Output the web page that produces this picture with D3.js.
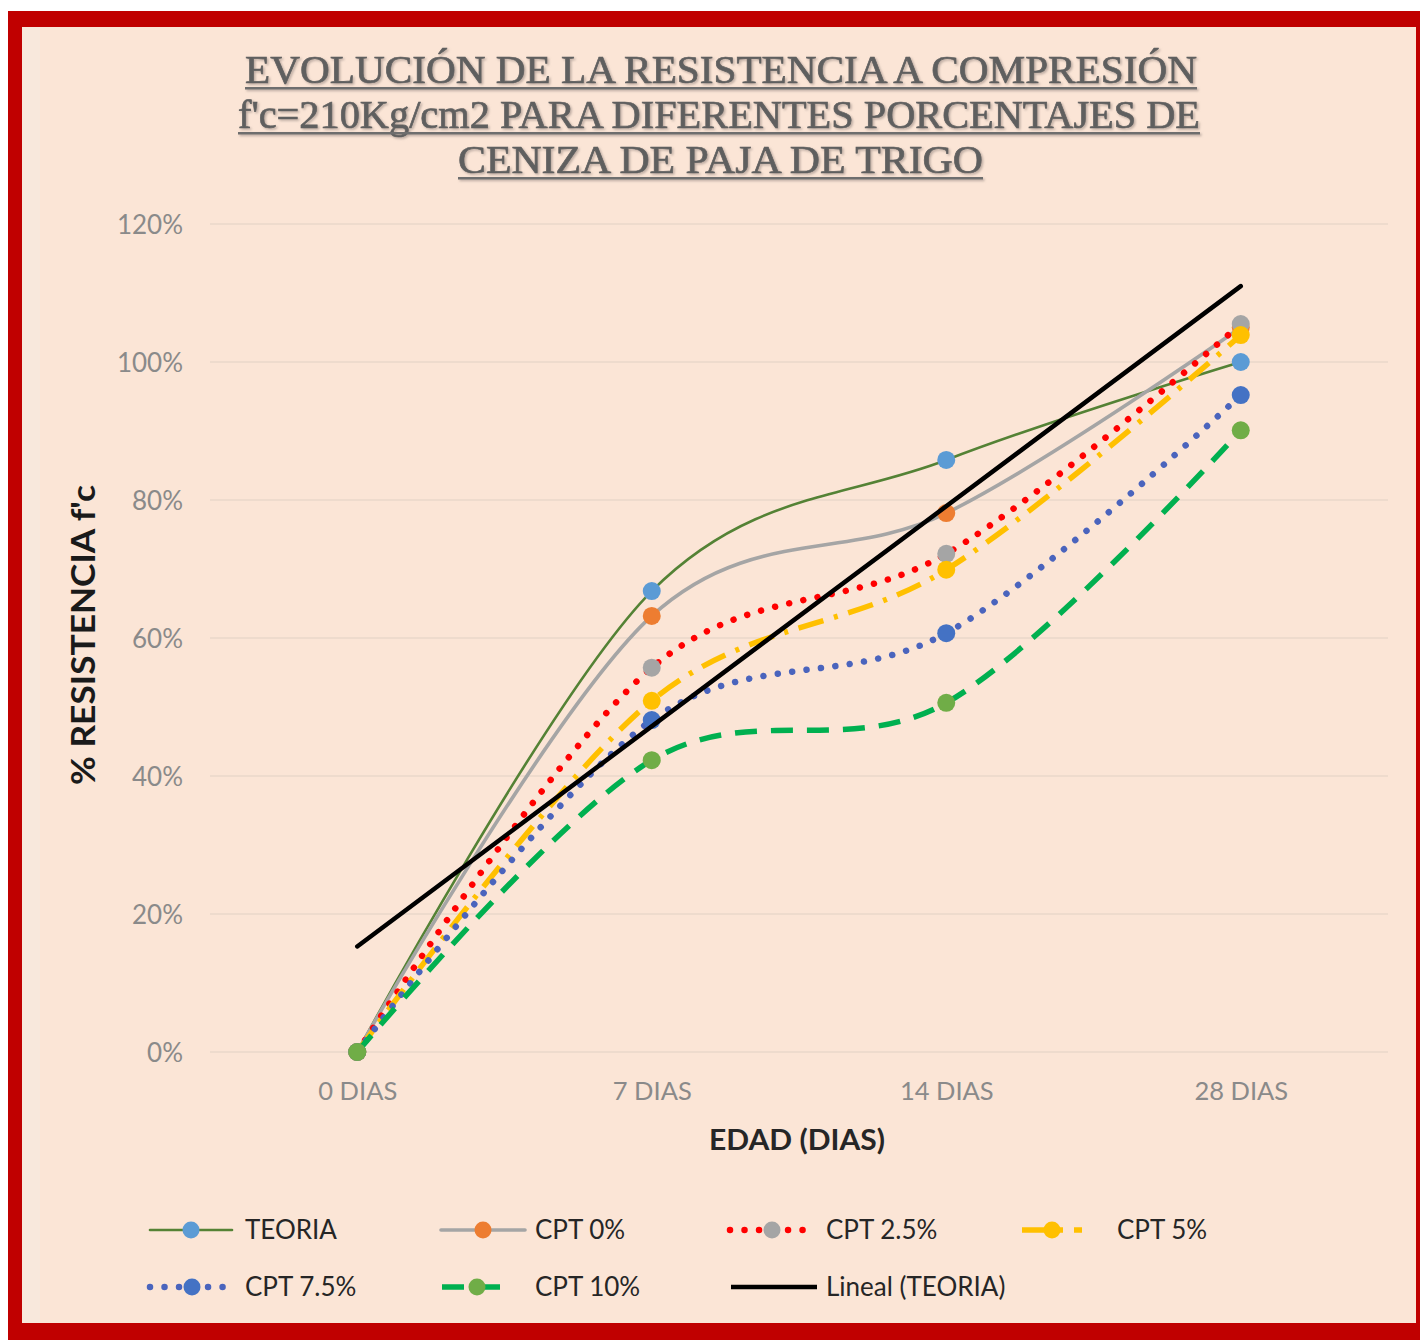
<!DOCTYPE html>
<html>
<head>
<meta charset="utf-8">
<script src="https://cdn.jsdelivr.net/npm/d3@7/dist/d3.min.js"></script>
<style>
  html, body { margin: 0; padding: 0; background: #ffffff; }
  svg { display: block; }
</style>
</head>
<body>
<svg id="chart" width="1422" height="1342"></svg>
<script>
// ---------- DATA ----------
const categories = ["0 DIAS", "7 DIAS", "14 DIAS", "28 DIAS"];
const yTicks = [0, 0.2, 0.4, 0.6, 0.8, 1.0, 1.2];
const seriesNames = ["TEORIA", "CPT 0%", "CPT 2.5%", "CPT 5%", "CPT 7.5%", "CPT 10%"];
const teoria = [0, 0.668, 0.858, 1.000];
const cpt0   = [0, 0.632, 0.781, 1.050];
const cpt25  = [0, 0.557, 0.722, 1.055];
const cpt5   = [0, 0.509, 0.699, 1.039];
const cpt75  = [0, 0.481, 0.607, 0.952];
const cpt10  = [0, 0.423, 0.506, 0.901];
const trendName = "Lineal (TEORIA)";
const titleLines = [
  "EVOLUCIÓN DE LA RESISTENCIA A COMPRESIÓN",
  "f'c=210Kg/cm2 PARA DIFERENTES PORCENTAJES DE",
  "CENIZA DE PAJA DE TRIGO"
];
const xTitle = "EDAD (DIAS)";
const yTitle = "% RESISTENCIA f'c";

// ---------- STYLES ----------
const seriesValues = [teoria, cpt0, cpt25, cpt5, cpt75, cpt10];
const styles = [
  { line: "#548235", width: 2.6, dash: null, cap: "round", marker: "#5b9bd5" },
  { line: "#a5a5a5", width: 3.6, dash: null, cap: "round", marker: "#ed7d31" },
  { line: "#ff0000", width: 6.5, dash: "0.01 14.5", cap: "round", marker: "#a5a5a5" },
  { line: "#ffc000", width: 5.5, dash: "26 11 4 11", cap: "butt", marker: "#ffc000" },
  { line: "#4a64bd", width: 6.5, dash: "0.01 14.5", cap: "round", marker: "#4472c4" },
  { line: "#00b050", width: 5.5, dash: "22 14", cap: "butt", marker: "#70ad47" }
];

const svg = d3.select("#chart");
const defs = svg.append("defs");
const f = defs.append("filter").attr("id", "tshadow").attr("filterUnits", "userSpaceOnUse")
  .attr("x", 0).attr("y", 0).attr("width", 1422).attr("height", 1342);
f.append("feDropShadow").attr("dx", 1.5).attr("dy", 1.5).attr("stdDeviation", 0.8)
  .attr("flood-color", "#9e8f87").attr("flood-opacity", 0.7);

// frame
svg.append("rect").attr("x", 8).attr("y", 11).attr("width", 1412).attr("height", 1329).attr("fill", "#c00000");
svg.append("rect").attr("x", 22).attr("y", 27).attr("width", 1394).attr("height", 1296).attr("fill", "#fbe5d6");
svg.append("rect").attr("x", 22).attr("y", 27).attr("width", 18).attr("height", 1296).attr("fill", "#f8e8dc");

// scales
const x = d3.scalePoint().domain(categories).range([210, 1388]).padding(0.5);
const y = d3.scaleLinear().domain([0, 1.2]).range([1052, 224]);

// gridlines
svg.append("g").selectAll("line").data(yTicks).join("line")
  .attr("x1", 210).attr("x2", 1388)
  .attr("y1", d => y(d)).attr("y2", d => y(d))
  .attr("stroke", "#ead7ca").attr("stroke-width", 1.5);

// y axis labels
const yAxis = d3.axisLeft(y).tickValues(yTicks).tickFormat(d3.format(".0%")).tickSize(0).tickPadding(0);
const gy = svg.append("g").attr("transform", "translate(183,0)").call(yAxis);
gy.select(".domain").remove();
gy.selectAll("text").attr("font-family", "Lato, 'Open Sans', sans-serif").attr("font-size", 26)
  .attr("fill", "#8a8a8a").attr("dy", "0.35em");

// x axis labels
const xAxis = d3.axisBottom(x).tickSize(0).tickPadding(0);
const gx = svg.append("g").attr("transform", "translate(0,1080)").call(xAxis);
gx.select(".domain").remove();
gx.selectAll("text").attr("font-family", "Lato, 'Open Sans', sans-serif").attr("font-size", 25.5)
  .attr("fill", "#8a8a8a").attr("dy", "0.0em").attr("y", 20);

// axis titles
svg.append("text").attr("x", 797).attr("y", 1150).attr("text-anchor", "middle")
  .attr("textLength", 176).attr("lengthAdjust", "spacingAndGlyphs")
  .attr("font-family", "Lato, 'Open Sans', sans-serif").attr("font-weight", 700).attr("font-size", 29)
  .attr("fill", "#262626").text(xTitle);
svg.append("text").attr("transform", "translate(95,635) rotate(-90)").attr("text-anchor", "middle")
  .attr("textLength", 300).attr("lengthAdjust", "spacingAndGlyphs")
  .attr("font-family", "Lato, 'Open Sans', sans-serif").attr("font-weight", 700).attr("font-size", 33)
  .attr("fill", "#1a1a1a").text(yTitle);

// title
const titleBase = [83, 128, 173];
const titleSpan = [[245, 1197], [238, 1200], [458, 983]];
const tg = svg.append("g").attr("filter", "url(#tshadow)");
titleLines.forEach((t, i) => {
  const [a, b] = titleSpan[i];
  tg.append("text").attr("x", a).attr("y", titleBase[i])
    .attr("textLength", b - a).attr("lengthAdjust", "spacingAndGlyphs")
    .attr("font-family", "'Liberation Serif', 'DejaVu Serif', serif").attr("font-size", 41)
    .attr("fill", "#5f5f5f").attr("stroke", "#5f5f5f").attr("stroke-width", 0.7).text(t);
  tg.append("rect").attr("x", a).attr("width", b - a).attr("y", titleBase[i] + 4).attr("height", 2.5)
    .attr("fill", "#6e6e6e");
});

// series lines
const line = d3.line()
  .x((d, i) => x(categories[i]))
  .y(d => y(d))
  .curve(d3.curveCardinal.tension(0));

const plot = svg.append("g");
seriesValues.forEach((vals, s) => {
  const st = styles[s];
  plot.append("path").datum(vals).attr("d", line)
    .attr("fill", "none").attr("stroke", st.line).attr("stroke-width", st.width)
    .attr("stroke-linecap", st.cap).attr("stroke-dasharray", st.dash);
  plot.append("g").selectAll("circle").data(vals).join("circle")
    .attr("cx", (d, i) => x(categories[i])).attr("cy", d => y(d)).attr("r", 9)
    .attr("fill", st.marker);
});

// linear trendline of TEORIA (least squares, x = 1..n)
const n = teoria.length;
const xs = d3.range(1, n + 1);
const mx = d3.mean(xs), my = d3.mean(teoria);
const slope = d3.sum(xs, (xv, i) => (xv - mx) * (teoria[i] - my)) / d3.sum(xs, xv => (xv - mx) ** 2);
const icpt = my - slope * mx;
plot.append("line")
  .attr("x1", x(categories[0])).attr("y1", y(icpt + slope * 1))
  .attr("x2", x(categories[n - 1])).attr("y2", y(icpt + slope * n))
  .attr("stroke", "#000000").attr("stroke-width", 4.5).attr("stroke-linecap", "round");

// legend
const legendItems = [
  { name: seriesNames[0], st: styles[0], lx: 150, lw: 82, tx: 245, ly: 1230 },
  { name: seriesNames[1], st: styles[1], lx: 441, lw: 84, tx: 535, ly: 1230 },
  { name: seriesNames[2], st: styles[2], lx: 730, lw: 84, tx: 826, ly: 1230 },
  { name: seriesNames[3], st: styles[3], lx: 1022, lw: 60, tx: 1117, ly: 1230 },
  { name: seriesNames[4], st: styles[4], lx: 150, lw: 84, tx: 245, ly: 1287 },
  { name: seriesNames[5], st: styles[5], lx: 442, lw: 70, tx: 535, ly: 1287 },
  { name: trendName, st: { line: "#000000", width: 4.5, dash: null, cap: "butt", marker: null }, lx: 731, lw: 86, tx: 826, ly: 1287 }
];
const lg = svg.append("g");
legendItems.forEach(it => {
  const st = it.st;
  lg.append("line").attr("x1", it.lx).attr("x2", it.lx + it.lw).attr("y1", it.ly).attr("y2", it.ly)
    .attr("stroke", st.line).attr("stroke-width", st.width)
    .attr("stroke-linecap", st.cap).attr("stroke-dasharray", st.dash);
  if (st.marker) {
    lg.append("circle").attr("cx", it.lx + it.lw / 2).attr("cy", it.ly).attr("r", 8.5).attr("fill", st.marker);
  }
  lg.append("text").attr("x", it.tx).attr("y", it.ly + 9)
    .attr("font-family", "Lato, 'Open Sans', sans-serif").attr("font-size", 26)
    .attr("fill", "#262626").text(it.name);
});
</script>
</body>
</html>
